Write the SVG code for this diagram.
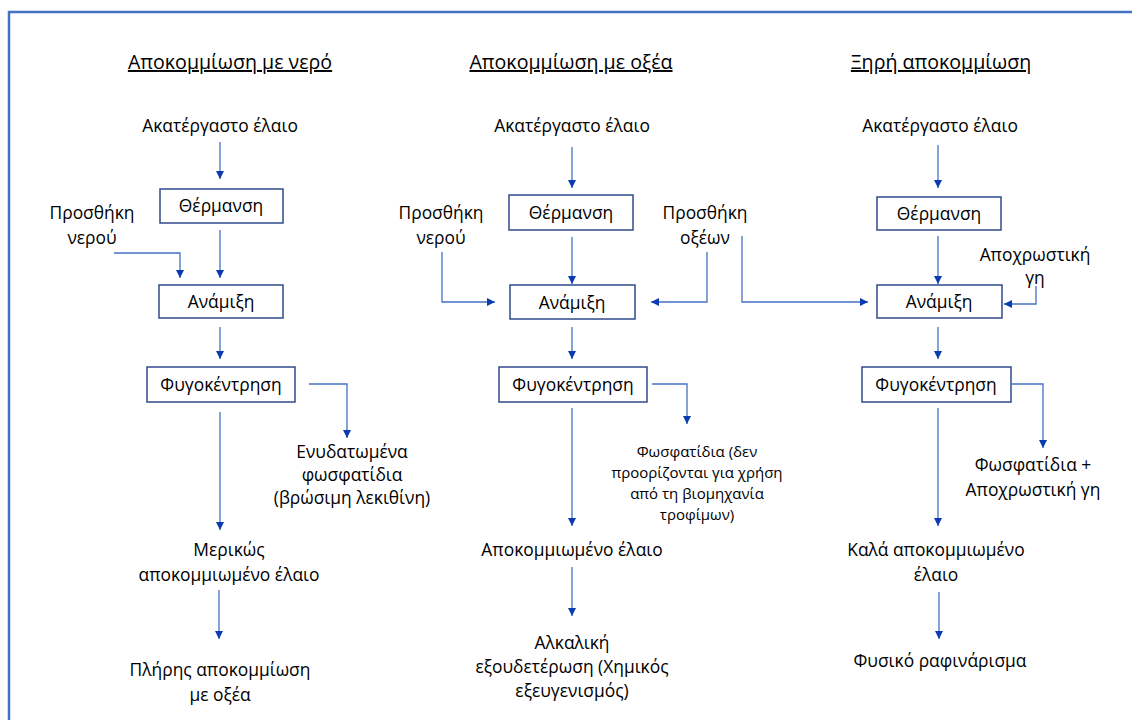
<svg xmlns="http://www.w3.org/2000/svg" width="1132" height="720" viewBox="0 0 1132 720">
<defs>
<style>
text{font-family:"Open Sans","Liberation Sans",sans-serif;font-size:17.4px;fill:#000;text-anchor:middle}
.t{font-size:19.6px;text-decoration:underline}
.s{font-size:15px}
.box{fill:#fff;stroke:#2f4b8c;stroke-width:1.5}
.c{fill:none;stroke:#4472c4;stroke-width:1.3}
.a{marker-end:url(#ah)}
</style>
<marker id="ah" viewBox="0 0 10 10" refX="10" refY="5" markerWidth="8" markerHeight="8" markerUnits="userSpaceOnUse" orient="auto">
<path d="M0,0 L10,5 L0,10 z" fill="#0b3bb0"/>
</marker>
</defs>
<rect width="1132" height="720" fill="#fff"/>
<path d="M9,730 V12 H1140" fill="none" stroke="#4472c4" stroke-width="2.5"/>

<g id="titles">
<text class="t" x="230" y="69">Αποκομμίωση με νερό</text>
<text class="t" x="571" y="69">Αποκομμίωση με οξέα</text>
<text class="t" x="941" y="69">Ξηρή αποκομμίωση</text>
</g>

<g id="connectors">
<path class="c a" d="M220,142 V179"/>
<path class="c a" d="M220,230 V278"/>
<path class="c a" d="M114,253 H180 V278"/>
<path class="c a" d="M220,327 V359"/>
<path class="c a" d="M309,384 H347 V438"/>
<path class="c a" d="M220,412 V530"/>
<path class="c a" d="M219,590 V639"/>
<path class="c a" d="M572,147 V188"/>
<path class="c a" d="M572,237 V284"/>
<path class="c a" d="M442,252 V302 H495"/>
<path class="c a" d="M707,252 V302 H651"/>
<path class="c a" d="M742,236 V302 H868"/>
<path class="c a" d="M572,327 V359"/>
<path class="c a" d="M652,384 H687 V424"/>
<path class="c a" d="M572,408 V526"/>
<path class="c a" d="M572,567 V616"/>
<path class="c a" d="M938,145 V188"/>
<path class="c a" d="M938,236 V284"/>
<path class="c a" d="M1036,286 V304 H1004"/>
<path class="c a" d="M938,327 V359"/>
<path class="c a" d="M1012,384 H1043 V448"/>
<path class="c a" d="M938,408 V526"/>
<path class="c a" d="M939,592 V639"/>
</g>

<g id="c1-raw"><text x="220" y="132">Ακατέργαστο έλαιο</text></g>
<g id="c1-heat"><rect class="box" x="160" y="189" width="123" height="34"/><text x="221" y="212">Θέρμανση</text></g>
<g id="c1-water"><text x="92" y="219">Προσθήκη</text><text x="92" y="244">νερού</text></g>
<g id="c1-mix"><rect class="box" x="159" y="285" width="124" height="33"/><text x="221" y="308">Ανάμιξη</text></g>
<g id="c1-cent"><rect class="box" x="147" y="367" width="148" height="35"/><text x="221" y="391">Φυγοκέντρηση</text></g>
<g id="c1-phos"><text x="352" y="458">Ενυδατωμένα</text><text x="352" y="481">φωσφατίδια</text><text x="352" y="504">(βρώσιμη λεκιθίνη)</text></g>
<g id="c1-partial"><text x="229" y="556">Μερικώς</text><text x="229" y="581">αποκομμιωμένο έλαιο</text></g>
<g id="c1-full"><text x="220" y="676">Πλήρης αποκομμίωση</text><text x="220" y="701">με οξέα</text></g>

<g id="c2-raw"><text x="572" y="132">Ακατέργαστο έλαιο</text></g>
<g id="c2-heat"><rect class="box" x="509" y="195" width="124" height="35"/><text x="571" y="219">Θέρμανση</text></g>
<g id="c2-water"><text x="441" y="219">Προσθήκη</text><text x="441" y="244">νερού</text></g>
<g id="c2-acid"><text x="705" y="219">Προσθήκη</text><text x="705" y="244">οξέων</text></g>
<g id="c2-mix"><rect class="box" x="510" y="285" width="125" height="34"/><text x="572" y="309">Ανάμιξη</text></g>
<g id="c2-cent"><rect class="box" x="499" y="367" width="148" height="35"/><text x="573" y="391">Φυγοκέντρηση</text></g>
<g id="c2-phos"><text class="s" x="697" y="457">Φωσφατίδια (δεν</text><text class="s" x="697" y="478">προορίζονται για χρήση</text><text class="s" x="697" y="499">από τη βιομηχανία</text><text class="s" x="697" y="520">τροφίμων)</text></g>
<g id="c2-oil"><text x="572" y="556">Αποκομμιωμένο έλαιο</text></g>
<g id="c2-alk"><text x="572" y="649">Αλκαλική</text><text x="572" y="673">εξουδετέρωση (Χημικός</text><text x="572" y="697">εξευγενισμός)</text></g>

<g id="c3-raw"><text x="940" y="132">Ακατέργαστο έλαιο</text></g>
<g id="c3-heat"><rect class="box" x="877" y="197" width="124" height="33"/><text x="939" y="220">Θέρμανση</text></g>
<g id="c3-earth"><text x="1035" y="261">Αποχρωστική</text><text x="1035" y="284">γη</text></g>
<g id="c3-mix"><rect class="box" x="877" y="285" width="125" height="33"/><text x="939" y="308">Ανάμιξη</text></g>
<g id="c3-cent"><rect class="box" x="862" y="367" width="149" height="35"/><text x="936" y="391">Φυγοκέντρηση</text></g>
<g id="c3-phos"><text x="1033" y="471">Φωσφατίδια +</text><text x="1033" y="496">Αποχρωστική γη</text></g>
<g id="c3-oil"><text x="936" y="556">Καλά αποκομμιωμένο</text><text x="936" y="581">έλαιο</text></g>
<g id="c3-phys"><text x="940" y="667">Φυσικό ραφινάρισμα</text></g>
</svg>
